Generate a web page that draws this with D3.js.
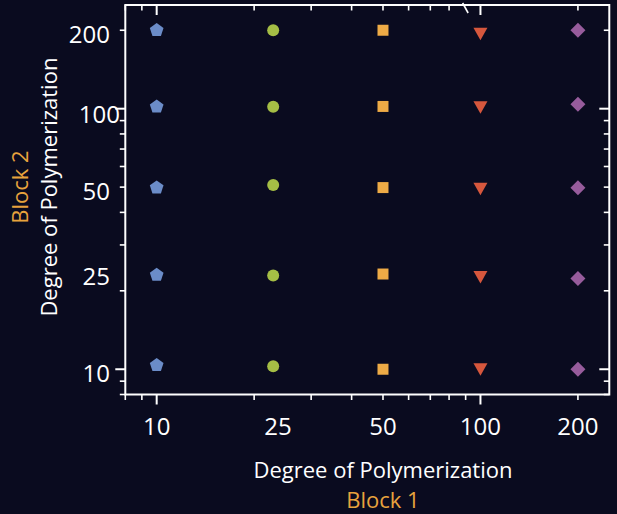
<!DOCTYPE html>
<html>
<head>
<meta charset="utf-8">
<script src="https://cdn.jsdelivr.net/npm/d3@7"></script>
<style>
  html, body { margin: 0; padding: 0; background: #0a0b1f; }
  svg { display: block; }
  text { font-family: "Open Sans", "Noto Sans", sans-serif; }
</style>
</head>
<body>
<svg id="chart" width="617" height="514"></svg>
<script>
// ---- data ----
const block1Values = [10, 22.9, 50, 100, 200];           // x position of each series (column)
const seriesNames  = ["pentagon", "circle", "square", "triangle", "diamond"];
const seriesColors = ["#6b8cc8", "#a5be45", "#eeab46", "#d6573d", "#975c9c"];
const pentagonY = [200, 101.8, 49.8, 23.0, 10.36];
const circleY   = [200, 101.8, 51.0, 22.9, 10.27];
const squareY   = [200, 102.0, 49.8, 23.2, 10.0];
const triangleY = [194, 101.3, 49.3, 22.6, 10.0];
const diamondY  = [200, 104.0, 49.7, 22.3, 10.0];
const seriesY = [pentagonY, circleY, squareY, triangleY, diamondY];

const xTickLabelValues = [10, 23.7, 50, 100, 200];
const xTickLabelTexts  = ["10", "25", "50", "100", "200"];
const yTickLabelValues = [10, 23.6, 50, 100, 200];
const yTickLabelTexts  = ["10", "25", "50", "100", "200"];
const axisDomain = [8, 250];
const axisTitle = "Degree of Polymerization";
const xBlockLabel = "Block 1";
const yBlockLabel = "Block 2";

(function () {
// ---- layout ----
const svg = d3.select("#chart");
const pLeft = 125.3, pRight = 609.3, pTop = 5, pBottom = 394.5;
const x = d3.scaleLog().domain(axisDomain).range([pLeft, pRight]);
const y = d3.scaleLog().domain(axisDomain).range([pBottom, pTop]);
const white = "#ffffff";
const orange = "#e8a33d";

svg.append("rect").attr("width", 617).attr("height", 514).attr("fill", "#0a0b1f");

// ticks
const tickVals = x.ticks().filter(v => v >= axisDomain[0] && v <= axisDomain[1]);
const isMajor = v => Math.abs(Math.log10(v) - Math.round(Math.log10(v))) < 1e-9;
const tickG = svg.append("g").attr("stroke", white).attr("stroke-linecap", "butt");
tickVals.forEach(v => {
  const L = isMajor(v) ? 10 : 5.5;
  const w = isMajor(v) ? 2 : 1.6;
  const xv = x(v), yv = y(v);
  // bottom (outside)
  tickG.append("line").attr("x1", xv).attr("x2", xv).attr("y1", pBottom).attr("y2", pBottom + L).attr("stroke-width", w);
  // top (inside)
  if (v === 90) {
    tickG.append("line").attr("x1", xv - 3).attr("x2", xv + 2.5).attr("y1", pTop - 2).attr("y2", pTop + 8).attr("stroke-width", 1.6);
  } else {
    tickG.append("line").attr("x1", xv).attr("x2", xv).attr("y1", pTop).attr("y2", pTop + L).attr("stroke-width", w);
  }
  // left (outside)
  tickG.append("line").attr("x1", pLeft - L).attr("x2", pLeft).attr("y1", yv).attr("y2", yv).attr("stroke-width", w);
  // right (inside)
  tickG.append("line").attr("x1", pRight - L).attr("x2", pRight).attr("y1", yv).attr("y2", yv).attr("stroke-width", w);
});

// frame
svg.append("rect")
  .attr("x", pLeft).attr("y", pTop)
  .attr("width", pRight - pLeft).attr("height", pBottom - pTop)
  .attr("fill", "none").attr("stroke", white).attr("stroke-width", 2);

// tick labels
svg.append("g").selectAll("text").data(xTickLabelValues).join("text")
  .attr("x", d => x(d)).attr("y", 435)
  .attr("text-anchor", "middle").attr("fill", white).attr("font-size", 24)
  .text((d, i) => xTickLabelTexts[i]);

svg.append("g").selectAll("text").data(yTickLabelValues).join("text")
  .attr("x", (d, i) => 110 + (yTickLabelTexts[i] === "100" ? 10 : 0))
  .attr("y", (d, i) => y(d) + 12.5 + (yTickLabelTexts[i] === "100" ? 2 : 0))
  .attr("text-anchor", "end").attr("fill", white).attr("font-size", 24)
  .text((d, i) => yTickLabelTexts[i]);

// axis titles
svg.append("text").attr("x", x(50)).attr("y", 478)
  .attr("text-anchor", "middle").attr("fill", white).attr("font-size", 22).text(axisTitle);
svg.append("text").attr("x", x(50)).attr("y", 508)
  .attr("text-anchor", "middle").attr("fill", orange).attr("font-size", 22).text(xBlockLabel);

svg.append("text").attr("transform", `translate(57,${y(50)}) rotate(-90)`)
  .attr("text-anchor", "middle").attr("fill", white).attr("font-size", 22).text(axisTitle);
svg.append("text").attr("transform", `translate(28,${y(50)}) rotate(-90)`)
  .attr("text-anchor", "middle").attr("fill", orange).attr("font-size", 22).text(yBlockLabel);

// marker shapes
function markerPath(kind) {
  const p = d3.path();
  if (kind === "pentagon") {
    const r = 7.2;
    for (let k = 0; k < 5; k++) {
      const a = -Math.PI / 2 + k * 2 * Math.PI / 5;
      const px = r * Math.cos(a), py = r * Math.sin(a);
      k === 0 ? p.moveTo(px, py) : p.lineTo(px, py);
    }
    p.closePath();
  } else if (kind === "circle") {
    p.arc(0, 0, 6, 0, 2 * Math.PI);
  } else if (kind === "square") {
    p.rect(-5.5, -5.5, 11, 11);
  } else if (kind === "triangle") {
    p.moveTo(-7, -6); p.lineTo(7, -6); p.lineTo(0, 6.5); p.closePath();
  } else if (kind === "diamond") {
    p.moveTo(0, -7.5); p.lineTo(7.5, 0); p.lineTo(0, 7.5); p.lineTo(-7.5, 0); p.closePath();
  }
  return p.toString();
}

const points = [];
seriesNames.forEach((name, si) => {
  seriesY[si].forEach(v => points.push({ kind: name, color: seriesColors[si], xv: block1Values[si], yv: v }));
});

svg.append("g").selectAll("path").data(points).join("path")
  .attr("transform", d => `translate(${x(d.xv)},${y(d.yv)})`)
  .attr("d", d => markerPath(d.kind))
  .attr("fill", d => d.color);
})();
</script>
</body>
</html>
